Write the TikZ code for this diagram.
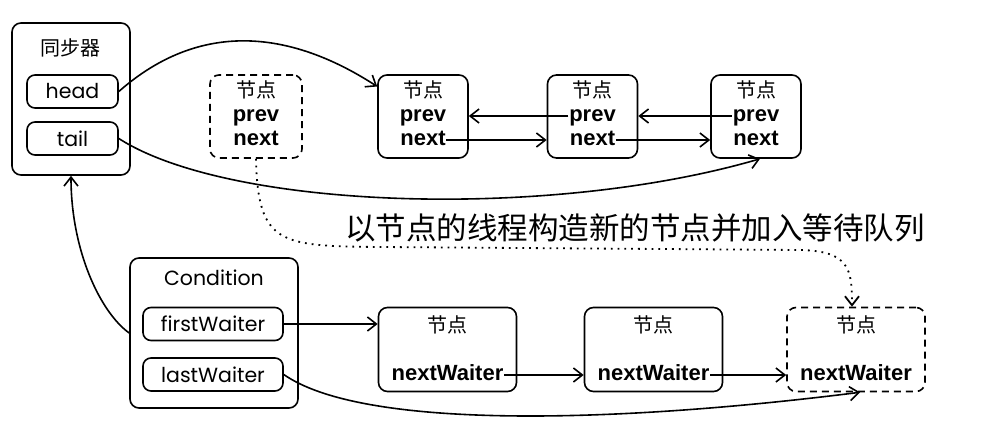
\documentclass[tikz,border=0pt]{standalone}
\usepackage{fontspec}
\setmainfont{Poppins}
\newfontfamily\cjk{Noto Sans CJK SC}
\newfontfamily\bsf{Liberation Sans}
\usetikzlibrary{arrows.meta,calc}

\begin{document}
\begin{tikzpicture}[x=1pt, y=-1pt, line width=1.6pt,
    >={Straight Barb[length=9pt,width=14pt]},
    box/.style={draw, rounded corners=9pt, inner sep=0pt},
    field/.style={draw, rounded corners=8pt, inner sep=0pt, minimum height=33pt,
        font=\fontsize{20.5}{20.5}\selectfont},
    ttl/.style={inner sep=0pt, font=\cjk\fontsize{20}{20}\selectfont},
    word/.style={inner sep=0pt, font=\fontsize{20.5}{20.5}\selectfont},
    bword/.style={inner sep=0pt, text height=11.4pt, text depth=0pt,
        font=\bsf\bfseries\fontsize{22}{22}\selectfont},
    ghost/.style={dash pattern=on 7pt off 5pt}]
    \useasboundingbox (0,0) rectangle (1005,425);

    % synchronizer
    \node[box, minimum width=118pt, minimum height=152pt] (sync) at (71,99) {};
    \node[ttl] (syncT) at (71,48) {同步器};
    \node[field, minimum width=91pt] (head) at (72.5,91.5) {head};
    \node[field, minimum width=91pt] (tail) at (72.5,138.5) {tail};

    % sync queue nodes
    \node[box, ghost, minimum width=92pt, minimum height=83pt] (q0) at (256,116.5) {};
    \node[ttl] (q0-t) at (256,90) {节点};
    \node[bword] (q0-p) at (256,116) {prev};
    \node[bword] (q0-n) at (256,140) {next};
    \foreach \n/\x in {q1/423, q2/592.5, q3/756} {
        \node[box, minimum width=90pt, minimum height=83pt] (\n) at (\x,116.5) {};
        \node[ttl] (\n-t) at (\x,90) {节点};
        \node[bword] (\n-p) at (\x,116) {prev};
        \node[bword] (\n-n) at (\x,140) {next};
    }
    \draw[->] (q2-p.west) -- (q1.east |- q2-p);
    \draw[->] (q3-p.west) -- (q2.east |- q3-p);
    \draw[->] (q1-n.east) -- (q2.west |- q1-n);
    \draw[->] (q2-n.east) -- (q3.west |- q2-n);

    % head and tail
    \draw[->] (head.east) .. controls (200,20) and (290,30) .. ($(q1.west)+(0,-30)$);
    \draw[->] (tail.east) .. controls (230,210) and (550,220) .. ($(q3.south)+(4,0)$);

    % condition
    \node[box, minimum width=168pt, minimum height=150pt] (cond) at (214,333) {};
    \node[word] (condT) at (214,278) {Condition};
    \node[field, minimum width=140pt] (first) at (213,324) {firstWaiter};
    \node[field, minimum width=140pt] (last) at (213,374.5) {lastWaiter};
    \draw[->] (cond.west) .. controls (100,312) and (71,250) .. (sync.south);

    % wait queue nodes
    \foreach \n/\x/\s in {w1/447.5/solid, w2/653.5/solid, w3/856/ghost} {
        \node[box, \s, minimum width=138pt, minimum height=84pt] (\n) at (\x,349.5) {};
        \node[ttl] (\n-t) at (\x,325) {节点};
        \node[bword] (\n-n) at (\x,375) {nextWaiter};
    }
    \draw[->] (first.east) -- (w1.west |- first);
    \draw[->] (w1-n.east) -- (w2.west |- w1-n);
    \draw[->] (w2-n.east) -- (w3.west |- w2-n);
    \draw[->] (last.east) .. controls (360,428) and (600,425) .. ($(w3.south)+(4,0)$);

    % new node into wait queue
    \node[ttl, font=\cjk\fontsize{30.5}{30.5}\selectfont] (note) at (635,228) {以节点的线程构造新的节点并加入等待队列};
    \draw[->, line width=1.8pt, dash pattern=on 1.8pt off 5pt] (q0.south) .. controls (258,245) and (280,246) .. (380,247)
        -- (800,250) .. controls (850,251) and (852,270) .. ($(w3.north)+(-4,0)$);
\end{tikzpicture}
\end{document}
